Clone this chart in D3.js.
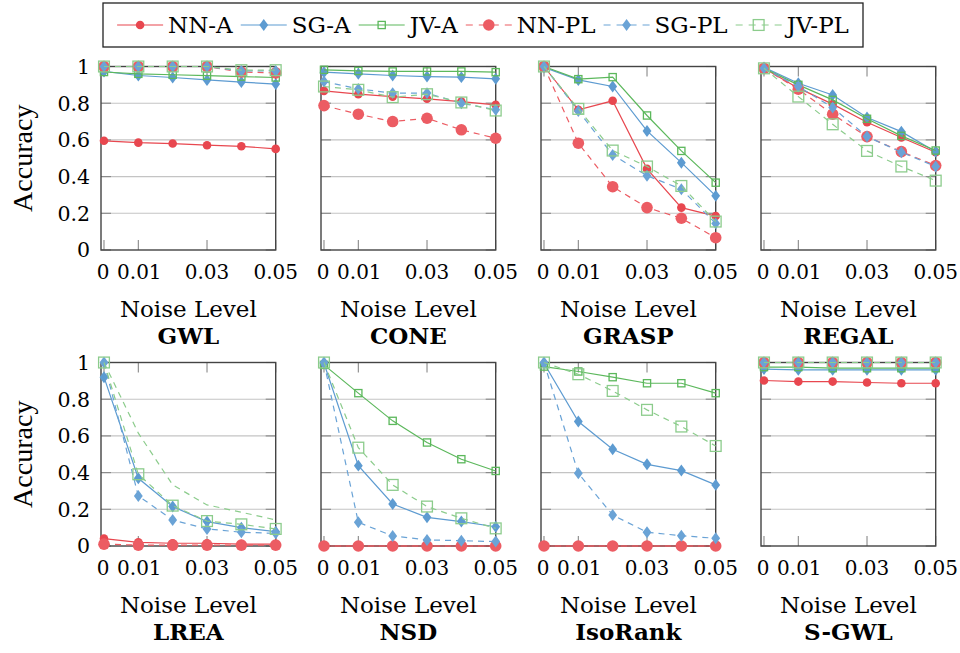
<!DOCTYPE html>
<html>
<head>
<meta charset="utf-8">
<script src="https://cdn.jsdelivr.net/npm/d3@7"></script>
<style>
  body { margin: 0; background: #fff; }
</style>
</head>
<body>
<svg width="960" height="653"></svg>
<script>
// noise levels and ticks
var noise = [0, 0.01, 0.02, 0.03, 0.04, 0.05];
var xTicks = [0, 0.01, 0.03, 0.05];
var yTicks = [0, 0.2, 0.4, 0.6, 0.8, 1];
var seriesNames = ["NN-A", "SG-A", "JV-A", "NN-PL", "SG-PL", "JV-PL"];
var methods = ["GWL", "CONE", "GRASP", "REGAL", "LREA", "NSD", "IsoRank", "S-GWL"];

// accuracy per method, rows in the order of seriesNames
var gwlAcc = [
  [0.595, 0.585, 0.58, 0.571, 0.565, 0.551],
  [0.973, 0.951, 0.94, 0.927, 0.915, 0.904],
  [0.97, 0.96, 0.955, 0.95, 0.945, 0.94],
  [1, 1, 1, 1, 0.97, 0.965],
  [1, 1, 1, 1, 0.976, 0.976],
  [1, 1, 1, 1, 0.98, 0.98]
];
var coneAcc = [
  [0.867, 0.849, 0.836, 0.824, 0.809, 0.791],
  [0.969, 0.96, 0.951, 0.945, 0.942, 0.933],
  [0.982, 0.976, 0.973, 0.973, 0.973, 0.969],
  [0.787, 0.74, 0.7, 0.718, 0.655, 0.609],
  [0.918, 0.878, 0.855, 0.855, 0.8, 0.764],
  [0.891, 0.873, 0.833, 0.849, 0.804, 0.76]
];
var graspAcc = [
  [1, 0.764, 0.813, 0.442, 0.231, 0.185],
  [0.995, 0.927, 0.891, 0.649, 0.476, 0.295],
  [1, 0.931, 0.942, 0.733, 0.54, 0.367],
  [1, 0.582, 0.345, 0.231, 0.173, 0.067],
  [1, 0.758, 0.518, 0.405, 0.331, 0.145],
  [1, 0.769, 0.542, 0.455, 0.349, 0.155]
];
var regalAcc = [
  [0.99, 0.882, 0.795, 0.696, 0.613, 0.533],
  [0.995, 0.909, 0.845, 0.722, 0.645, 0.536],
  [0.99, 0.9, 0.818, 0.715, 0.622, 0.542],
  [0.99, 0.876, 0.74, 0.618, 0.536, 0.46],
  [0.99, 0.891, 0.776, 0.618, 0.533, 0.455],
  [0.99, 0.836, 0.685, 0.54, 0.455, 0.378]
];
var lreaAcc = [
  [0.04, 0.02, 0.015, 0.015, 0.01, 0.01],
  [0.92, 0.369, 0.215, 0.133, 0.1, 0.078],
  [1, 0.615, 0.333, 0.224, 0.184, 0.142],
  [0.01, 0.005, 0.005, 0.005, 0.005, 0.005],
  [1, 0.273, 0.142, 0.093, 0.075, 0.069],
  [1, 0.391, 0.22, 0.136, 0.118, 0.093]
];
var nsdAcc = [
  [0, 0, 0, 0, 0, 0],
  [0.996, 0.438, 0.229, 0.156, 0.133, 0.105],
  [0.987, 0.833, 0.682, 0.564, 0.473, 0.409],
  [0, 0, 0, 0, 0, 0],
  [1, 0.129, 0.055, 0.033, 0.029, 0.024],
  [1, 0.536, 0.333, 0.215, 0.151, 0.096]
];
var isorankAcc = [
  [0, 0, 0, 0, 0, 0],
  [0.996, 0.678, 0.527, 0.445, 0.411, 0.333],
  [0.978, 0.951, 0.92, 0.887, 0.887, 0.833],
  [0, 0, 0, 0, 0, 0],
  [1, 0.396, 0.169, 0.075, 0.056, 0.042],
  [1, 0.936, 0.845, 0.742, 0.651, 0.545]
];
var sgwlAcc = [
  [0.902, 0.896, 0.896, 0.891, 0.887, 0.887],
  [0.964, 0.96, 0.96, 0.96, 0.96, 0.96],
  [0.975, 0.975, 0.969, 0.969, 0.969, 0.969],
  [1, 1, 1, 1, 1, 1],
  [1, 1, 1, 1, 1, 1],
  [1, 1, 1, 1, 1, 1]
];
var allAcc = [gwlAcc, coneAcc, graspAcc, regalAcc, lreaAcc, nsdAcc, isorankAcc, sgwlAcc];

// styles per series
var styles = {
  "NN-A":  {color: "#e8474f", dash: null,  mark: "circle",  size: 4.3},
  "SG-A":  {color: "#5d9bd1", dash: null,  mark: "diamond", size: 5.2},
  "JV-A":  {color: "#5cb85c", dash: null,  mark: "square",  size: 3.6},
  "NN-PL": {color: "#ec5c63", dash: "6,5", mark: "circle",  size: 5.8},
  "SG-PL": {color: "#6aa3d6", dash: "6,5", mark: "diamond", size: 5.2},
  "JV-PL": {color: "#8ccc8c", dash: "6,5", mark: "square",  size: 5.4}
};

var svg = d3.select("svg");
// upright text only renders as serif with DejaVu Serif here
var serif = "DejaVu Serif, serif";
var panelW = 174.7, panelH = 183.5;

function label(sel, size, base) {
  return sel.attr("font-family", serif).style("font-size", size + "px")
    .attr("dy", "0.35em").attr("y", base - 0.35 * size);
}

function drawMark(g, style, cx, cy) {
  var s = style.size;
  if (style.mark == "circle") {
    g.append("circle").attr("cx", cx).attr("cy", cy).attr("r", s)
      .attr("fill", style.color);
  } else if (style.mark == "diamond") {
    g.append("path")
      .attr("d", "M" + cx + "," + (cy - s * 1.15) + "L" + (cx + s * 0.85) + "," + cy +
                 "L" + cx + "," + (cy + s * 1.15) + "L" + (cx - s * 0.85) + "," + cy + "Z")
      .attr("fill", style.color);
  } else {
    g.append("rect").attr("x", cx - s).attr("y", cy - s)
      .attr("width", 2 * s).attr("height", 2 * s)
      .attr("fill", "none").attr("stroke", style.color).attr("stroke-width", 1.3);
  }
}

methods.forEach(function(name, i) {
  var col = i % 4, row = Math.floor(i / 4);
  var left = 101 + 220 * col, top = 66.5 + 296 * row;

  var x = d3.scaleLinear().domain([-0.00087, 0.05]).range([0, panelW]);
  var y = d3.scaleLinear().domain([0, 1]).range([panelH, 0]);

  var g = svg.append("g").attr("transform", "translate(" + left + "," + top + ")");

  // grid lines
  g.selectAll(".grid").data(yTicks.slice(1, -1)).enter().append("line")
    .attr("x1", 0).attr("x2", panelW)
    .attr("y1", function(d) { return y(d); }).attr("y2", function(d) { return y(d); })
    .attr("stroke", "#c4c4c4").attr("stroke-width", 1.1);

  // y ticks on both sides
  [0, panelW].forEach(function(xx) {
    var dir = xx == 0 ? 1 : -1;
    g.selectAll(null).data(yTicks).enter().append("line")
      .attr("x1", xx).attr("x2", xx + dir * 10)
      .attr("y1", function(d) { return y(d); }).attr("y2", function(d) { return y(d); })
      .attr("stroke", "#888").attr("stroke-width", 1.1);
  });
  // x ticks top and bottom
  [0, panelH].forEach(function(yy) {
    var dir = yy == 0 ? 1 : -1;
    g.selectAll(null).data(xTicks).enter().append("line")
      .attr("x1", function(d) { return x(d); }).attr("x2", function(d) { return x(d); })
      .attr("y1", yy).attr("y2", yy + dir * 10)
      .attr("stroke", "#888").attr("stroke-width", 1.1);
  });

  // frame
  g.append("rect").attr("width", panelW).attr("height", panelH)
    .attr("fill", "none").attr("stroke", "#444").attr("stroke-width", 1.4);

  // x tick labels ("0" and "0.01" sit close together as in the original)
  label(g.selectAll(".xt").data(xTicks).enter().append("text"), 20, panelH + 29)
    .attr("x", function(d) { return d == 0 ? x(d) - 1 : x(d) + (d == 0.01 ? 1 : 0); })
    .attr("text-anchor", "middle")
    .text(function(d) { return d == 0 ? "0" : d3.format(".2f")(d); });

  // y tick labels (first column only)
  if (col == 0) {
    g.selectAll(".yt").data(yTicks).enter().append("text")
      .attr("x", -11).attr("y", function(d) { return y(d); })
      .attr("dy", "0.36em").attr("text-anchor", "end")
      .attr("font-family", serif).style("font-size", "20.5px")
      .text(function(d) { return d == 0 || d == 1 ? d : d3.format(".1f")(d); });
    svg.append("text")
      .attr("transform", "translate(22," + (top + panelH / 2) + ") rotate(-90)")
      .attr("text-anchor", "middle").attr("dy", "0.35em")
      .attr("font-family", "Liberation Serif, DejaVu Serif, serif").style("font-size", "28px")
      .text("Accuracy");
  }

  label(g.append("text"), 23, panelH + 67).attr("x", panelW / 2)
    .attr("text-anchor", "middle").text("Noise Level");
  label(g.append("text"), 23, panelH + 94).attr("x", panelW / 2)
    .attr("text-anchor", "middle").style("font-weight", "bold").text(name);

  // series
  var line = d3.line()
    .x(function(d, j) { return x(noise[j]); })
    .y(function(d) { return y(d); });

  allAcc[i].forEach(function(vals, k) {
    var sname = seriesNames[k];
    var st = styles[sname];
    // LREA: the JV-A curve shows as a dashed line without marks
    var unmarked = (name == "LREA" && sname == "JV-A");
    g.append("path").datum(vals)
      .attr("d", line)
      .attr("fill", "none")
      .attr("stroke", unmarked ? styles["JV-PL"].color : st.color)
      .attr("stroke-width", 1.2)
      .attr("stroke-dasharray", unmarked ? "6,5" : st.dash);
    if (!unmarked) {
      vals.forEach(function(v, j) { drawMark(g, st, x(noise[j]), y(v)); });
    }
  });
});

// legend
var legend = svg.append("g");
legend.append("rect").attr("x", 103).attr("y", 3).attr("width", 760).attr("height", 44)
  .attr("fill", "#fff").attr("stroke", "#222").attr("stroke-width", 1.3);

var items = legend.selectAll(".item").data(seriesNames).enter().append("g");
items.append("text").attr("class", "ltext").attr("font-family", serif).style("font-size", "23px")
  .attr("dy", "0.35em").attr("y", 25).text(function(d) { return d; });

var widths = [];
items.select("text").each(function() { widths.push(this.getComputedTextLength()); });
var sampleW = 46, gapA = 5, gapB = 8;
var total = d3.sum(widths) + seriesNames.length * (sampleW + gapA) + (seriesNames.length - 1) * gapB;
var cursor = 103 + (760 - total) / 2;
items.each(function(d, k) {
  var it = d3.select(this);
  var st = styles[d];
  it.append("line").attr("x1", cursor).attr("x2", cursor + sampleW)
    .attr("y1", 25).attr("y2", 25)
    .attr("stroke", st.color).attr("stroke-width", 1.2)
    .attr("stroke-dasharray", st.dash ? "7,6" : null);
  drawMark(it, st, cursor + sampleW / 2, 25);
  it.select("text").attr("x", cursor + sampleW + gapA);
  cursor += sampleW + gapA + widths[k] + gapB;
});
</script>
</body>
</html>
